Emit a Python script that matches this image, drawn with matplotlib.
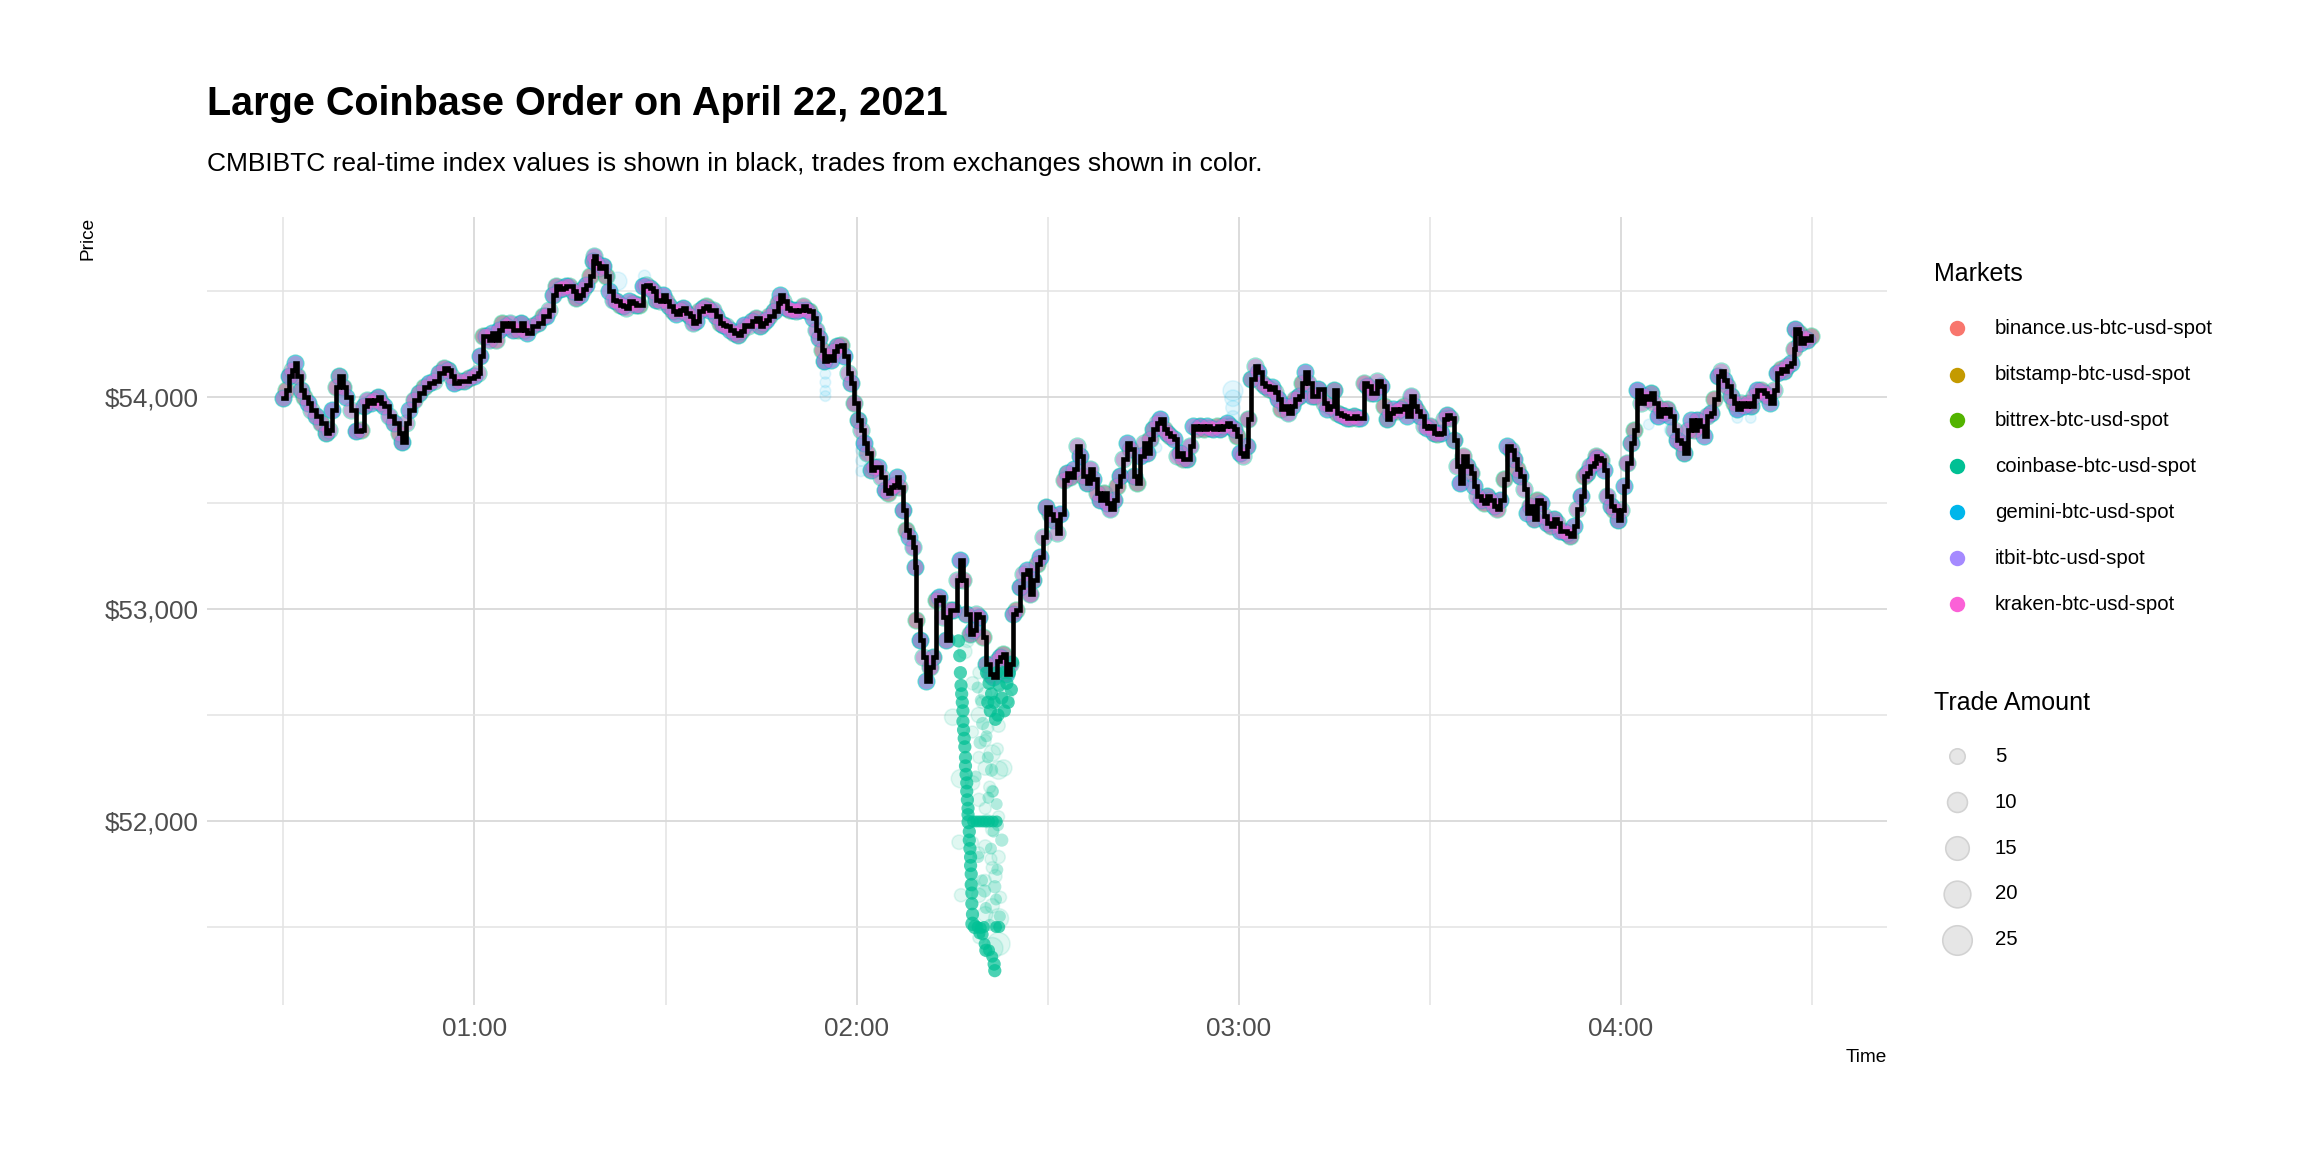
import matplotlib
matplotlib.use("Agg")
import matplotlib.pyplot as plt
import numpy as np

plt.rcParams['font.family'] = ['Liberation Sans', 'DejaVu Sans']

# ---------------- data ----------------
# CMBIBTC index, minutes after 00:00 and price (USD)
index_minutes = [
    30.0, 30.4, 30.9, 31.4, 31.8, 32.2, 32.7, 33.3, 33.8, 34.3,
    35.1, 35.9, 36.7, 37.2, 37.7, 38.2, 38.7, 39.3, 39.8, 40.6,
    41.4, 42.2, 42.7, 43.2, 43.7, 44.2, 44.8, 45.3, 45.8, 46.6,
    47.4, 48.2, 48.6, 49.2, 49.7, 50.5, 51.3, 52.1, 52.9, 53.7,
    54.5, 55.2, 55.8, 56.3, 56.8, 57.6, 58.4, 59.2, 60.0, 60.5,
    60.8, 61.3, 61.8, 62.3, 62.8, 63.4, 63.9, 64.4, 64.9, 65.5,
    66.0, 66.8, 67.3, 67.8, 68.3, 69.1, 69.9, 70.7, 71.2, 71.7,
    72.3, 72.8, 73.4, 73.9, 74.4, 74.9, 75.4, 76.0, 76.5, 77.0,
    77.5, 78.1, 78.6, 78.8, 79.1, 79.6, 80.2, 80.7, 81.2, 81.7,
    82.3, 82.8, 83.3, 83.8, 84.3, 84.9, 85.4, 85.9, 86.4, 87.0,
    87.5, 88.0, 88.5, 89.1, 89.6, 90.1, 90.6, 91.2, 91.7, 92.2,
    92.7, 93.2, 93.8, 94.3, 94.8, 95.3, 95.9, 96.4, 96.9, 97.4,
    97.9, 98.5, 99.0, 99.5, 100.1, 100.8, 101.4, 101.9, 102.4, 102.9,
    103.5, 104.2, 104.8, 105.3, 105.8, 106.3, 107.1, 107.6, 108.0, 108.4,
    109.0, 109.5, 110.0, 110.5, 111.0, 111.6, 112.1, 112.6,
    113.1, 113.6, 114.1, 114.6, 114.9, 115.4, 116.0, 116.5, 117.0, 117.5,
    118.1, 118.6, 119.1, 119.6, 120.2, 120.7, 121.2, 121.7, 122.3, 122.8,
    123.3, 123.8, 124.4, 124.9, 125.4, 125.9, 126.4, 126.7, 127.3, 127.8,
    128.3, 128.8, 129.1, 129.4, 129.9, 130.4, 130.9, 131.5, 132.0, 132.5,
    133.0, 133.6, 134.1, 134.6, 135.1, 135.7, 136.2, 136.7, 137.2, 137.8,
    138.3, 138.8, 139.3, 139.9, 140.4, 140.9, 141.4, 142.0, 142.5, 143.0,
    143.5, 144.1, 144.6, 145.1, 145.6, 146.2, 146.7, 147.2, 147.7, 148.3,
    148.8, 149.3, 149.8, 150.4, 150.9, 151.4, 151.9, 152.5, 153.0, 153.5,
    154.1, 154.6, 155.1, 155.6, 156.2, 156.7, 157.2, 157.7, 158.3, 158.8,
    159.3, 159.8, 160.4, 160.9, 161.4, 161.9, 162.4, 163.0, 163.5, 164.0,
    164.5, 165.1, 165.6, 166.1, 166.6, 167.1, 167.7, 168.2, 168.7, 169.2,
    169.8, 170.3, 170.8, 171.3, 171.9, 172.4, 172.9, 173.4, 173.9, 174.5,
    175.0, 175.5, 176.0, 176.6, 177.1, 177.6, 178.1, 178.6, 179.2, 179.7,
    180.2, 180.7, 181.3,
    181.5, 182.0, 182.6, 183.1, 183.6, 184.1, 184.7, 185.2, 185.7, 186.2,
    186.7, 187.3, 187.8, 188.3, 188.8, 189.4, 189.9, 190.4, 190.9, 191.5,
    192.0, 192.5,
    193.4, 193.9, 194.4, 194.9, 195.4, 196.0, 196.5, 197.0, 197.5, 198.1,
    198.6, 199.1, 199.6, 200.2, 200.7, 201.2, 201.7, 202.3, 202.8, 203.3,
    203.8, 204.3, 204.9, 205.4, 205.9, 206.4, 207.0, 207.5, 208.0, 208.5,
    209.1, 209.6, 210.1, 210.6, 211.2, 211.7, 212.2, 212.7, 213.2, 213.8,
    214.3, 214.8, 215.3, 215.9, 216.4, 216.9, 217.4, 218.0, 218.5, 219.0,
    219.5, 220.1, 220.6, 221.1, 221.6, 222.1, 222.7, 223.2, 223.7, 224.2,
    224.8, 225.3, 225.8, 226.3, 226.9, 227.4, 227.9, 228.4, 229.0, 229.5,
    230.0, 230.5, 231.0, 231.6, 232.1, 232.6, 233.1, 233.7, 234.2, 234.7,
    235.2,
    235.8, 236.1, 236.3,
    236.9, 237.4, 237.9, 238.4, 239.0, 239.5, 240.0, 240.5, 241.0, 241.6,
    242.1, 242.6, 243.1, 243.7, 244.2, 244.7, 245.2, 245.8, 246.3, 246.8,
    247.3, 247.8, 248.4, 248.9, 249.4, 249.9, 250.5, 251.0, 251.5, 252.0,
    252.5, 253.1, 253.6, 254.1, 254.6, 255.2, 255.7, 256.2, 256.7, 257.3,
    257.8, 258.3, 258.8, 259.3, 259.9, 260.4, 260.9, 261.4, 262.0, 262.5,
    263.0, 263.5, 264.0, 264.6, 265.1, 265.6, 266.1, 266.7, 267.2,
    267.4, 268.0, 268.2, 268.8, 269.3, 269.8,
]
index_price = [
    53995, 54035, 54098, 54129, 54161, 54098, 54035, 54003, 53972, 53940,
    53909, 53877, 53830, 53845, 53940, 54050, 54098, 54050, 54003, 53940,
    53838, 53845, 53956, 53987, 53972, 53987, 54003, 53972, 53956, 53909,
    53877, 53830, 53790, 53877, 53940, 53987, 54019, 54050, 54066, 54074,
    54114, 54137, 54129, 54098, 54066, 54074, 54074, 54090, 54098, 54114,
    54192, 54287, 54287, 54271, 54303, 54271, 54318, 54350, 54334, 54350,
    54318, 54318, 54350, 54318, 54303, 54334, 54350, 54382, 54382, 54413,
    54484, 54524, 54508, 54516, 54524, 54524, 54500, 54468, 54484, 54508,
    54531, 54571, 54642, 54665, 54634, 54610, 54618, 54571, 54500, 54460,
    54453, 54437, 54429, 54421, 54453, 54445, 54437, 54437, 54524, 54531,
    54516, 54500, 54460, 54453, 54484, 54453, 54429, 54405, 54390, 54413,
    54421, 54397, 54382, 54350, 54358, 54405, 54421, 54429, 54413, 54413,
    54382, 54350, 54342, 54334, 54319, 54303, 54295, 54311, 54342, 54334,
    54358, 54374, 54334, 54350, 54366, 54382, 54405, 54445, 54484, 54453,
    54421, 54413, 54413, 54405, 54413, 54429, 54413, 54405,
    54374, 54319, 54279, 54224, 54169, 54192, 54177, 54216, 54240, 54248,
    54192, 54114, 54066, 53972, 53893, 53845, 53782, 53735, 53656, 53672,
    53672, 53625, 53562, 53546, 53577, 53585, 53625, 53577, 53467, 53372,
    53341, 53294, 53199, 52947, 52852, 52773, 52663, 52726, 52773, 53041,
    53057, 52962, 52852, 52994, 52994, 53136, 53230, 53136, 52978, 52883,
    52899, 52978, 52962, 52868, 52742, 52694, 52678, 52757, 52773, 52789,
    52694, 52742, 52978, 52994, 53104, 53167, 53183, 53073, 53136, 53215,
    53246, 53341, 53483, 53451, 53420, 53357, 53451, 53609, 53640, 53625,
    53659, 53770, 53722, 53628, 53596, 53659, 53612, 53549, 53517, 53549,
    53502, 53470, 53517, 53581, 53628, 53707, 53786, 53754, 53628, 53596,
    53722, 53786, 53738, 53801, 53849, 53880, 53896, 53849, 53833, 53817,
    53801, 53722, 53738, 53707, 53707, 53770, 53864, 53849, 53864, 53849,
    53864, 53856, 53849, 53864, 53849, 53864, 53880, 53864, 53849, 53817,
    53738, 53722, 53770,
    53896, 54085, 54148, 54117, 54069, 54054, 54038, 54046, 54022, 53991,
    53943, 53959, 53927, 53959, 53991, 54006, 54069, 54117, 54069, 54006,
    54006, 54038,
    53973, 53942, 53958, 54036, 53926, 53918, 53910, 53903, 53903, 53910,
    53903, 53903, 54068, 54052, 54020, 54020, 54075, 54052, 53958, 53895,
    53926, 53942, 53934, 53942, 53958, 53910, 54005, 53958, 53934, 53910,
    53863, 53855, 53863, 53832, 53824, 53832, 53895, 53918, 53903, 53800,
    53675, 53596, 53722, 53675, 53643, 53580, 53533, 53517, 53502, 53533,
    53517, 53486, 53470, 53517, 53612, 53769, 53753, 53706, 53659, 53627,
    53565, 53455, 53486, 53423, 53517, 53502, 53439, 53407, 53392, 53423,
    53407, 53368, 53368, 53360, 53345, 53392, 53470, 53533, 53627, 53643,
    53675,
    53690, 53721, 53713,
    53705, 53658, 53532, 53485, 53469, 53422, 53469, 53579, 53690, 53784,
    53847, 54036, 53973, 54005, 53989, 54020, 53973, 53910, 53942, 53926,
    53942, 53910, 53847, 53800, 53784, 53737, 53847, 53894, 53847, 53894,
    53863, 53816, 53910, 53926, 53989, 54099, 54123, 54083, 54052, 54005,
    53973, 53942, 53973, 53957, 53973, 53957, 54005, 54036, 54036, 54020,
    54005, 53973, 54036, 54115, 54131, 54123, 54146, 54162, 54225,
    54320, 54304, 54257, 54280, 54272, 54288,
]

markets = ["binance.us-btc-usd-spot", "bitstamp-btc-usd-spot", "bittrex-btc-usd-spot",
           "coinbase-btc-usd-spot", "gemini-btc-usd-spot", "itbit-btc-usd-spot",
           "kraken-btc-usd-spot"]
market_colors = ["#F8766D", "#C49A00", "#53B400", "#00C094", "#00B6EB", "#A58AFF", "#FB61D7"]
# typical trade amount (BTC) of the routine trades that hug the index
market_typical_amount = [6, 6, 6, 8, 7, 6, 5]
# how often each exchange prints a trade, in index samples
market_trade_every = [5, 5, 5, 1, 2, 3, 1]
market_draw_order = [0, 1, 2, 5, 3, 4, 6]

# Coinbase large order: dense fills walking down the book
cb_core_minutes = [136.0, 136.2, 136.3, 136.4, 136.5, 136.6, 136.7, 136.7, 136.8, 136.9,
                   137.0, 137.1, 137.1, 137.2, 137.3, 137.3, 137.4, 137.5, 137.5, 137.6,
                   137.7, 137.7, 137.8, 137.9, 137.9, 138.0, 138.0, 138.1, 138.1, 138.2, 138.2,
                   138.6, 139.0, 139.5, 139.8, 140.1, 140.3, 140.8, 141.3, 141.6, 141.7,
                   141.9, 142.4, 139.3, 140.0,
                   138.3, 138.8, 139.3, 139.8, 140.3, 140.8, 141.4, 142.0,
                   140.4, 140.8, 141.2, 141.6, 142.0, 142.4, 142.8, 143.2, 143.6, 144.0,
                   144.3, 141.0, 142.2, 143.0, 141.8, 143.8, 144.5, 140.6]
cb_core_price = [52850, 52780, 52700, 52640, 52600, 52560, 52520, 52470, 52430, 52390,
                 52350, 52300, 52260, 52220, 52180, 52140, 52100, 52060, 52030, 51995,
                 51950, 51910, 51870, 51830, 51790, 51750, 51700, 51660, 51610, 51560, 51515,
                 51500, 51500, 51495, 51465, 51420, 51390, 51390, 51360, 51325, 51294,
                 51500, 51500, 51470, 51500,
                 51998, 51998, 51998, 51998, 51998, 51998, 51998, 51998,
                 52700, 52650, 52600, 52560, 52700, 52640, 52580, 52520, 52650, 52700,
                 52620, 52520, 52500, 52700, 52480, 52560, 52750, 52560]
cb_core_amount = [3, 3, 3, 3, 3, 3, 3, 3, 3, 3,
                  3, 3, 3, 3, 3, 3, 3, 3, 3, 4,
                  3, 3, 3, 3, 3, 3, 3, 3, 3, 3, 4,
                  4, 2, 2, 2, 2, 3, 2, 2, 3, 3,
                  2, 2, 2, 2,
                  2, 2, 2, 2, 2, 2, 2, 2,
                  3, 3, 3, 3, 3, 3, 3, 3, 3, 3,
                  3, 3, 3, 3, 3, 3, 3, 3]

# Coinbase large order: medium-density fills to the right of the main column
cb_mid_minutes = [139.0, 139.5, 139.8, 140.4, 140.6, 141.2, 141.4, 142.0, 142.2, 142.8,
                  139.1, 139.7, 140.1, 140.3, 140.9, 141.1, 141.7, 141.9, 142.5, 138.7,
                  139.4, 140.7, 141.5, 142.1]
cb_mid_price = [52630, 52570, 52460, 52400, 52300, 52240, 52140, 52080, 51980, 51910,
                51830, 51720, 51670, 51590, 51510, 51870, 51690, 51630, 51550, 52210,
                52370, 52110, 51950, 51770]
cb_mid_amount = [2, 2, 3, 2, 2, 3, 2, 2, 2, 3,
                 2, 2, 3, 2, 2, 2, 3, 2, 2, 2,
                 3, 2, 2, 2]

# Coinbase large order: scattered (light) fills, some of them big
cb_cloud_minutes = [138.2, 138.2, 138.2, 138.2, 138.2,
                    139.2, 139.2, 139.2, 139.2, 139.2, 139.2, 139.2,
                    140.2, 140.2, 140.2, 140.2, 140.2, 140.2, 140.2,
                    141.3, 141.3, 141.3, 141.3, 141.3, 141.3, 141.3,
                    142.3, 142.3, 142.3, 142.3, 142.3, 142.3,
                    143.1, 143.1, 136.3, 136.1, 136.4, 137.0, 137.4, 135.1,
                    140.6, 140.9, 141.8, 142.6, 139.7, 140.5, 141.1, 142.1]
cb_cloud_price = [52650, 52420, 52180, 51900, 51700,
                  52700, 52500, 52300, 52100, 51850, 51650, 51450,
                  52600, 52380, 52250, 52060, 51880, 51720, 51560,
                  52550, 52320, 52140, 51960, 51780, 51600, 51400,
                  52450, 52240, 52020, 51830, 51540, 51420,
                  52580, 52250, 52200, 51900, 51650, 52800, 52850, 52490,
                  52440, 52160, 51740, 51640, 52560, 52000, 51820, 52340]
cb_cloud_amount = [3, 2, 4, 2, 3,
                   2, 5, 2, 3, 2, 4, 2,
                   3, 2, 4, 2, 3, 2, 5,
                   2, 6, 2, 3, 2, 4, 12,
                   3, 8, 2, 3, 10, 14,
                   10, 6, 8, 4, 3, 4, 3, 6,
                   2, 2, 3, 2, 2, 3, 2, 2]

# Gemini trades printing away from the index
gem_minutes = [115.1, 115.1, 115.1, 115.1, 120.7, 120.7, 120.7,
               179.1, 179.1, 179.1, 179.1, 82.5, 86.7, 167.1,
               244.4, 247.8, 258.3, 260.4]
gem_price = [54110, 54070, 54030, 54005, 53750, 53700, 53650,
             54030, 53995, 53950, 53905, 54547, 54571, 53762,
             53871, 53845, 53902, 53902]
gem_amount = [1, 1, 1, 1, 1, 1, 1,
              10, 6, 4, 3, 8, 2, 1,
              1, 2, 1, 1]

x_tick_minutes = [60, 120, 180, 240]
x_tick_labels = ["01:00", "02:00", "03:00", "04:00"]
x_minor_minutes = [30, 90, 150, 210, 270]
y_tick_values = [52000, 53000, 54000]
y_tick_labels = ["$52,000", "$53,000", "$54,000"]
y_minor_values = [51500, 52500, 53500, 54500]
legend_amounts = [5, 10, 15, 20, 25]

title = "Large Coinbase Order on April 22, 2021"
subtitle = "CMBIBTC real-time index values is shown in black, trades from exchanges shown in color."


def size_of(amount):
    # area scale (points^2) used for the trade-amount size mapping
    return 20 + 7.9 * np.asarray(amount, dtype=float)


def pairs(a, b, c=None):
    m = min(len(a), len(b)) if c is None else min(len(a), len(b), len(c))
    out = [np.asarray(a[:m], dtype=float), np.asarray(b[:m], dtype=float)]
    if c is not None:
        out.append(np.asarray(c[:m], dtype=float))
    return out


# ---------------- figure ----------------
W, H = 2304, 1152
fig = plt.figure(figsize=(16, 8), dpi=144)
fig.patch.set_facecolor("white")
ax = fig.add_axes([207 / W, 1 - 1005 / H, 1680 / W, 788 / H])

t_idx, p_idx = pairs(index_minutes, index_price)

# grid
ax.set_xlim(18, 281.8)
ax.set_ylim(51132, 54850)
ax.set_xticks(x_tick_minutes)
ax.set_xticklabels(x_tick_labels)
ax.set_xticks(x_minor_minutes, minor=True)
ax.set_yticks(y_tick_values)
ax.set_yticklabels(y_tick_labels)
ax.set_yticks(y_minor_values, minor=True)
ax.grid(which="major", color="#d9d9d9", linewidth=0.9)
ax.grid(which="minor", color="#e4e4e4", linewidth=0.8)
ax.set_axisbelow(True)
for s in ax.spines.values():
    s.set_visible(False)
ax.tick_params(which="both", length=0)
ax.tick_params(axis="x", pad=6, labelsize=13, labelcolor="#4d4d4d")
ax.tick_params(axis="y", pad=4, labelsize=13, labelcolor="#4d4d4d")

# routine trades on every exchange, hugging the index
for i in market_draw_order:
    k = market_trade_every[i]
    sel = slice(i % k, None, k)
    ax.scatter(t_idx[sel], p_idx[sel], s=size_of(market_typical_amount[i]),
               color=market_colors[i], alpha=0.42, linewidths=0, zorder=2)

coinbase_col = market_colors[markets.index("coinbase-btc-usd-spot")]
gemini_col = market_colors[markets.index("gemini-btc-usd-spot")]

ct, cp, ca = pairs(cb_cloud_minutes, cb_cloud_price, cb_cloud_amount)
ax.scatter(ct, cp, s=size_of(ca), facecolor=coinbase_col, edgecolor=coinbase_col,
           alpha=0.12, linewidths=0.8, zorder=2)
ct, cp, ca = pairs(cb_mid_minutes, cb_mid_price, cb_mid_amount)
ax.scatter(ct, cp, s=size_of(ca), color=coinbase_col, alpha=0.3, linewidths=0, zorder=2)
ct, cp, ca = pairs(cb_core_minutes, cb_core_price, cb_core_amount)
ax.scatter(ct, cp, s=size_of(ca), color=coinbase_col, alpha=0.7, linewidths=0, zorder=2)
gt, gp, ga = pairs(gem_minutes, gem_price, gem_amount)
ax.scatter(gt, gp, s=size_of(ga), facecolor=gemini_col, edgecolor=gemini_col,
           alpha=0.11, linewidths=0.8, zorder=2)

# index line
ax.plot(t_idx, p_idx, color="black", linewidth=2.3, drawstyle="steps-post",
        solid_joinstyle="miter", zorder=3)

# titles
fig.text(207 / W, 1 - 114.6 / H, title, fontsize=19.8, fontweight="bold",
         ha="left", va="baseline")
fig.text(207 / W, 1 - 170.5 / H, subtitle, fontsize=13.2, ha="left", va="baseline")
fig.text(88 / W, 1 - 217 / H, "Price", rotation=90, fontsize=9.5, ha="center", va="top")
fig.text(1887 / W, 1 - 1058 / H, "Time", fontsize=9.5, ha="right", va="center")

# legends (pixel-space overlay)
lg = fig.add_axes([0, 0, 1, 1])
lg.set_xlim(0, W)
lg.set_ylim(H, 0)
lg.axis("off")
lg.patch.set_alpha(0)

lg.text(1934, 274.4, "Markets", fontsize=12.5, ha="left", va="center")
market_rows = [328.2, 374.5, 420.4, 466.4, 512.3, 558.2, 604.1]
for y, name, col in zip(market_rows, markets, market_colors):
    lg.plot([1956.7], [y], marker="o", markersize=7.7, color=col,
            markeredgewidth=0, linestyle="none")
    lg.text(1995, y, name, fontsize=10.2, ha="left", va="center")

lg.text(1934, 702.8, "Trade Amount", fontsize=12.5, ha="left", va="center")
size_rows = [756, 802, 848, 893.8, 939.7]
for y, a in zip(size_rows, legend_amounts):
    lg.scatter([1956.7], [y], s=size_of(a), facecolor="#e6e6e6",
               edgecolor="#d2d2d2", linewidths=0.8)
    lg.text(1995, y, str(a), fontsize=10.2, ha="left", va="center")

fig.savefig("out.png", dpi=144, facecolor="white")
